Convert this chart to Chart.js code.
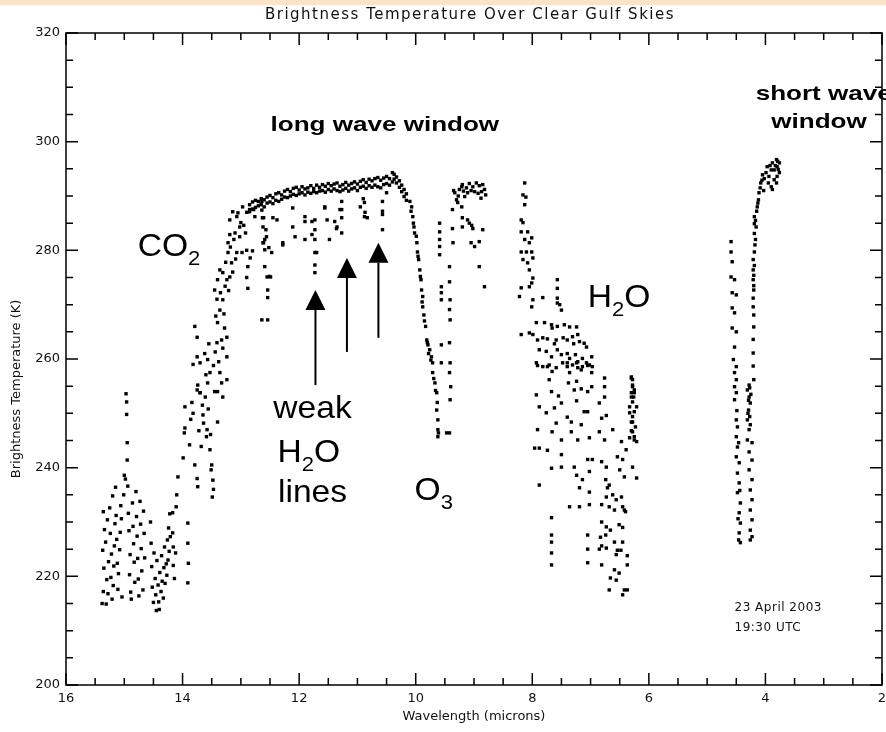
<!DOCTYPE html>
<html>
<head>
<meta charset="utf-8">
<title>Brightness Temperature Over Clear Gulf Skies</title>
<script src="https://cdn.jsdelivr.net/npm/chart.js@4.4.1/dist/chart.umd.min.js"></script>
<style>
  html, body { margin: 0; padding: 0; background: #fff; }
</style>
</head>
<body>
<canvas id="graphBT" width="886" height="732"></canvas>
<script>
// [wavelength (microns), brightness temperature (K)]
const co2Band = [
  [15.38,215.0],[15.36,217.2],[15.35,221.5],[15.37,224.8],[15.34,228.6],[15.36,231.9],[15.32,226.3],[15.30,219.4],
  [15.31,214.9],[15.28,216.8],[15.27,222.7],[15.29,230.4],[15.25,232.6],[15.24,227.9],[15.22,224.1],[15.23,219.8],
  [15.21,215.8],[15.19,218.3],[15.18,221.9],[15.17,225.6],[15.16,229.7],[15.14,231.2],[15.13,226.8],[15.12,222.4],
  [15.11,217.6],[15.10,220.5],[15.08,224.9],[15.07,228.1],[15.06,233.0],[15.05,230.6],[15.04,216.2],[15.15,236.4],
  [15.20,234.8],
  [14.97,253.6],[14.96,252.1],[14.96,249.8],[14.95,244.6],[14.95,241.4],[14.98,237.9],[14.94,236.6],[15.00,238.6],
  [15.01,235.0],
  [14.93,231.6],[14.92,228.4],[14.90,224.0],[14.91,220.3],[14.89,217.1],[14.88,215.8],[14.86,233.5],[14.85,229.2],
  [14.84,226.0],[14.83,222.6],[14.82,218.9],[14.80,235.6],[14.79,231.0],[14.78,227.4],[14.77,223.3],[14.76,219.5],
  [14.75,216.4],[14.73,233.8],[14.72,229.6],[14.71,225.1],[14.70,221.0],[14.68,217.5],[14.67,232.0],[14.66,227.9],
  [14.65,223.4],
  [14.55,230.0],[14.54,226.1],[14.53,221.8],[14.52,218.0],[14.50,215.2],[14.49,224.3],[14.47,219.6],[14.46,216.6],
  [14.45,213.7],[14.44,222.9],[14.42,218.4],[14.41,215.3],[14.40,213.9],[14.39,220.7],[14.37,217.2],[14.36,223.8],
  [14.35,219.1],[14.33,216.0],[14.32,221.6],[14.31,225.4],[14.30,218.7],[14.28,222.3],[14.27,220.2],[14.26,226.7],
  [14.25,223.0],[14.24,228.9],[14.23,224.6],[14.22,231.5],[14.21,227.3],
  [14.17,231.7],[14.17,228.0],[14.16,225.4],[14.16,222.0],[14.14,219.6],[14.12,224.3],[14.10,235.0],[14.11,232.8],
  [14.08,238.3],[13.99,241.8],[13.96,247.3],[13.97,246.4],[13.96,251.2],[13.91,229.8],[13.91,226.1],[13.90,222.4],
  [13.91,218.8],[13.84,252.0],[13.82,250.0],[13.75,254.3],[13.79,240.5],[13.75,238.0],[13.74,236.5],[13.70,253.8],
  [13.65,249.7],[13.64,248.2],[13.58,247.0],[13.59,245.7],[13.53,243.3],[13.50,240.5],[13.51,239.6],[13.48,237.7],
  [13.47,236.0],[13.49,234.6],[13.45,254.0],[13.40,248.4],[13.33,255.6],[13.88,244.2],[13.86,248.9],[13.72,246.8],
  [13.68,243.9],[13.66,251.5],[13.61,253.0],[13.56,250.8],[13.52,246.1],
  [13.79,266.0],[13.75,264.0],[13.62,261.0],[13.75,260.4],[13.70,259.3],[13.82,259.0],[13.57,259.9],[13.53,257.5],
  [13.74,255.2],[13.57,255.6],[13.70,253.8],[13.55,262.8],[13.60,257.1],[13.47,258.8],[13.44,261.3],
  [13.36,269.0],[13.31,270.9],[13.40,266.7],[13.28,265.7],[13.33,263.5],[13.41,263.0],[13.24,264.0],[13.31,262.0],
  [13.24,260.4],[13.36,257.5],[13.24,256.2],[13.40,254.0],[13.31,253.0],[13.43,267.9],[13.38,259.5],
  [13.45,272.7],[13.41,271.0],[13.40,274.6],[13.36,276.4],[13.31,275.9],[13.24,274.6],[13.19,275.1],[13.14,276.0],
  [13.07,279.6],[13.22,279.6],[13.16,277.7],[12.98,279.6],[12.90,280.0],[12.88,277.0],[12.90,275.0],[12.88,273.0],
  [13.35,272.2],[13.29,268.3],[13.27,273.4],[13.26,277.8],[13.21,272.6],[13.18,280.6],[13.12,282.0],[13.09,278.4],
  [13.19,285.6],[13.14,287.1],[13.07,286.2],[13.02,284.3],[12.97,288.0],[12.90,287.0],[12.85,287.5],[13.10,283.2],
  [13.02,282.5],[12.92,283.2],[13.19,282.9],[13.22,281.4],[13.05,286.9],[13.00,285.1],[12.95,284.6]
];

const windowBand = [
  [12.85,288.4],[12.85,287.1],[12.80,288.9],[12.80,287.6],[12.75,289.2],[12.75,287.9],[12.70,289.0],[12.70,288.2],
  [12.65,289.5],[12.65,288.4],[12.60,289.3],[12.60,288.0],[12.55,289.8],[12.55,288.7],[12.50,290.1],[12.50,288.9],
  [12.45,289.7],[12.45,288.6],[12.40,290.4],[12.40,289.2],[12.35,290.6],[12.35,289.0],[12.30,290.2],[12.30,289.4],
  [12.25,290.9],[12.25,289.8],[12.20,291.2],[12.20,289.7],[12.15,290.8],[12.15,290.0],[12.10,291.4],[12.10,290.3],
  [12.05,291.6],[12.05,290.1],[12.00,291.1],[12.00,290.4],[11.95,291.7],[11.95,290.6],[11.90,291.3],[11.90,290.2],
  [11.85,291.5],[11.85,290.7],[11.80,291.9],[11.80,290.5],[11.75,291.4],[11.75,290.8],[11.70,292.0],[11.70,290.6],
  [11.65,291.6],[11.65,290.9],[11.60,292.1],[11.60,291.0],[11.55,291.8],[11.55,290.7],[11.50,292.3],[11.50,291.2],
  [11.45,291.9],[11.45,290.9],[11.40,292.2],[11.40,291.3],[11.35,292.4],[11.35,291.0],[11.30,291.8],[11.30,290.8],
  [11.25,292.1],[11.25,291.1],[11.20,292.5],[11.20,291.4],[11.15,292.0],[11.15,290.9],[11.10,292.3],[11.10,291.3],
  [11.05,292.6],[11.05,291.5],[11.00,292.2],[11.00,291.0],[10.95,292.7],[10.95,291.6],[10.90,293.0],[10.90,291.8],
  [10.85,292.5],[10.85,291.4],[10.80,293.1],[10.80,291.9],[10.75,292.8],[10.75,291.6],[10.70,293.2],[10.70,292.0],
  [10.65,293.4],[10.65,291.7],[10.60,292.9],[10.60,291.5],[10.55,293.3],[10.55,292.1],[10.50,293.6],[10.50,292.3],
  [10.45,293.2],[10.45,292.0],[10.40,294.3],[10.40,292.6],[10.37,294.0],[10.37,293.1],[10.33,293.5],[10.33,292.4],
  [10.28,292.8],[10.28,291.6],[10.24,292.0],[10.24,290.8],[10.20,291.2],[10.20,289.9],[10.16,290.4],[10.16,289.2],
  [12.64,289.0],[12.64,287.4],[12.63,286.0],[12.62,284.3],[12.62,281.4],[12.59,277.0],[12.55,275.1],[12.51,275.2],
  [12.54,272.7],[12.54,271.3],[12.64,267.2],[12.54,267.2],[12.59,282.0],[12.59,280.1],[12.45,286.0],[12.38,285.6],
  [12.28,281.0],[12.11,284.3],[12.07,282.5],[11.90,286.2],[11.90,285.3],[11.90,282.0],[11.73,285.6],[11.73,283.8],
  [11.73,282.0],[11.73,279.6],[11.73,277.3],[11.73,275.9],[11.56,287.8],[11.52,285.6],[11.48,282.0],[11.39,285.3],
  [11.35,284.3],[11.27,289.0],[11.27,287.5],[11.27,286.0],[11.27,283.2],[10.88,288.8],[10.88,286.2],[10.83,286.0],
  [10.57,289.0],[10.57,287.2],[10.57,283.8],[10.50,290.6],[12.78,287.5],[12.76,286.2],[12.61,286.0],[12.57,283.8],
  [12.56,282.5],[12.61,281.4],[12.52,280.5],[12.47,279.6],[12.49,275.1],[12.28,281.4],[12.11,287.8],[11.78,285.3],
  [11.78,282.9],[11.70,279.6],[11.56,288.0],[11.36,284.0],[11.30,287.5],[10.90,289.5],[10.87,287.0],[10.57,286.6],
  [10.95,288.0],[12.84,278.6],[12.80,279.9]
];

const ozoneBand = [
  [10.10,289.0],[10.07,288.0],[10.05,286.2],[10.03,284.3],[10.02,283.2],[9.98,281.4],[9.97,279.7],[9.95,278.3],
  [9.93,276.4],[9.91,274.6],[9.90,272.7],[9.88,271.5],[9.88,269.6],[9.86,268.1],[9.83,266.0],[9.81,263.5],
  [9.79,262.6],[9.76,261.7],[9.73,260.4],[9.71,259.3],[9.71,257.5],[9.67,255.6],[9.64,253.8],[9.64,250.6],
  [9.62,248.8],[9.62,247.0],[9.62,245.7],[10.08,287.2],[10.04,285.0],[9.99,282.6],[9.96,278.9],[9.92,275.2],
  [9.89,270.5],[9.85,267.0],[9.80,263.0],[9.78,261.0],[9.74,259.8],[9.69,256.4],[9.66,254.2],[9.63,252.0],
  [9.61,246.4],
  [9.59,285.0],[9.59,283.4],[9.59,282.0],[9.59,280.7],[9.59,279.2],[9.56,273.3],[9.56,272.2],[9.56,270.9],
  [9.56,262.6],[9.56,259.3],
  [9.42,277.0],[9.42,274.2],[9.41,270.9],[9.42,269.1],[9.41,267.2],[9.42,263.0],[9.41,259.3],[9.42,257.5],
  [9.40,254.9],[9.41,252.5],[9.47,246.4],[9.42,246.4],
  [9.33,290.6],[9.30,289.3],[9.25,291.2],[9.21,291.7],[9.20,292.1],[9.13,291.5],[9.08,292.3],[9.02,291.7],
  [8.96,292.4],[8.91,291.9],[8.85,292.1],[8.82,291.2],[8.87,290.8],[8.99,290.8],[9.11,290.6],[9.16,289.9],
  [9.28,288.8],[9.21,288.0],[9.35,291.0],[9.27,290.0],[9.18,290.9],[9.05,291.0],[8.93,290.5],[8.88,289.6],
  [8.80,290.2],
  [9.37,287.5],[9.37,284.0],[9.36,281.4],[9.20,286.0],[9.20,284.3],[9.11,285.6],[9.08,285.0],[9.05,281.4],
  [8.99,280.7],[8.91,281.6],[8.85,283.8],[8.91,277.0],[8.82,273.3],[9.04,284.6],[9.02,284.0]
];

const waterBand = [
  [8.13,292.4],[8.16,290.2],[8.11,289.8],[8.13,288.4],[8.19,285.6],[8.16,285.1],[8.19,283.4],[8.08,283.4],
  [8.13,282.0],[8.01,282.3],[8.05,281.4],[8.19,279.7],[8.10,279.7],[8.01,279.7],[7.99,278.6],[8.16,278.3],
  [8.08,277.7],[8.05,276.4],[7.99,274.9],[8.01,274.0],[8.19,273.1],[8.05,273.3],[8.22,271.5],[7.99,270.9],
  [8.01,269.6],[7.82,271.3],[7.57,274.6],[7.57,273.0],[7.57,271.2],[7.57,270.3],[7.53,270.0],[7.50,269.0],
  [7.93,266.7],[8.19,264.5],[8.05,264.8],[7.99,264.5],[7.79,266.7],[7.67,266.3],[7.66,265.7],[7.57,266.0],
  [7.45,266.3],[7.36,265.9],[7.24,265.9],[7.91,263.5],[7.82,263.9],[7.74,263.7],[7.62,262.8],[7.59,263.5],
  [7.47,263.9],[7.40,263.5],[7.31,264.1],[7.29,262.8],[7.22,264.5],[7.19,263.2],[7.11,262.9],[7.07,262.2],
  [7.88,261.7],[7.76,261.4],[7.67,260.4],[7.57,261.7],[7.50,260.8],[7.40,261.0],[7.36,260.1],[7.26,260.8],
  [7.22,259.5],[7.14,260.1],[7.07,259.3],[6.98,260.4],[7.93,259.3],[7.82,258.6],[7.71,258.9],[7.59,258.4],
  [7.48,259.3],[7.40,258.6],[7.31,258.9],[7.22,258.4],[7.14,258.6],[7.02,258.9],[6.97,258.6],
  [7.91,258.8],[7.74,258.6],[7.66,257.7],[7.40,259.3],[7.36,257.5],[7.24,259.3],[7.16,258.0],[7.05,258.8],
  [6.98,257.5],[6.76,256.5],[6.30,256.5],[6.28,254.9],
  [7.93,253.4],[7.71,256.2],[7.67,254.0],[7.55,253.2],[7.38,255.6],[7.28,254.3],[7.24,255.9],[7.16,254.5],
  [7.05,254.0],[6.98,254.9],[6.76,254.9],[6.76,253.0],[6.30,253.0],[6.25,253.8],
  [7.88,251.2],[7.76,250.1],[7.62,251.0],[7.59,248.2],[7.50,251.9],[7.40,249.3],[7.33,248.4],[7.24,252.3],
  [7.11,250.3],[7.05,250.3],[6.85,251.9],[6.81,249.1],[6.73,249.6],[6.33,250.1],[6.28,248.4],[6.21,251.2],
  [7.91,247.0],[7.88,243.6],[7.96,243.6],[7.74,243.2],[7.66,246.6],[7.50,245.1],[7.33,246.6],[7.22,245.1],
  [7.16,247.9],[7.02,245.5],[6.85,246.6],[6.76,245.1],[6.62,247.0],[6.47,244.8],[6.39,243.3],[6.33,245.5],
  [6.30,246.8],[6.25,245.1],
  [7.50,242.4],[7.50,240.1],[7.67,239.9],[7.28,240.1],[7.24,238.6],[7.14,237.8],[7.02,239.3],[7.05,241.5],
  [6.97,241.5],[6.81,241.1],[6.73,240.1],[6.74,237.8],[6.68,236.8],[6.54,242.0],[6.45,241.5],[6.50,239.6],
  [6.42,238.3],[6.28,240.1],[6.21,238.1],[7.88,236.8],
  [7.19,236.3],[7.02,235.5],[6.71,236.3],[6.62,235.0],[6.73,234.6],[6.56,234.1],[6.47,234.6],[6.45,232.8],
  [6.42,232.2],[7.36,232.8],[7.19,232.8],[7.02,233.2],[6.81,233.2],[6.68,232.8],[6.59,232.2],[6.40,231.9],
  [7.67,230.8],
  [6.81,230.0],[6.73,229.1],[6.66,228.5],[6.51,229.5],[6.45,229.0],[6.83,227.2],[6.74,227.6],[6.59,226.3],
  [6.45,226.3],[7.67,227.6],[7.67,226.3],[7.05,227.6],[6.81,225.6],[6.73,225.2],[6.54,224.8],[6.48,224.8],
  [6.56,224.0],[7.67,224.3],[7.05,225.0],[6.37,223.8],[6.85,225.0],
  [7.67,222.1],[7.05,222.5],[6.81,222.1],[6.59,221.2],[6.51,220.6],[6.37,222.1],[6.66,219.7],[6.56,219.3],
  [6.68,217.5],[6.42,217.5],[6.37,217.5],[6.45,216.6],
  [6.30,256.7],[6.28,256.2],[6.28,255.2],[6.25,254.3],[6.30,253.8],[6.26,253.0],[6.28,252.1],[6.33,251.2],
  [6.25,250.3],[6.28,249.4],[6.30,248.4],[6.23,247.5],[6.28,246.6],[6.25,245.7],[6.21,244.8]
];

const shortwaveBand = [
  [4.59,281.6],[4.59,279.7],[4.57,277.9],[4.59,275.1],[4.53,274.6],[4.57,272.2],[4.50,271.8],[4.57,269.4],
  [4.53,268.5],[4.57,265.7],[4.50,265.0],[4.53,262.2],[4.55,259.9],[4.50,258.6],[4.53,257.5],[4.50,256.2],
  [4.53,254.9],[4.50,253.8],[4.53,252.5],[4.50,248.8],[4.48,247.5],[4.50,245.7],[4.48,243.8],[4.50,242.0],
  [4.45,240.9],[4.48,239.0],[4.45,237.2],[4.48,235.4],[4.43,233.5],[4.45,231.7],[4.43,229.8],[4.45,228.0],
  [4.43,226.2],[4.46,226.7],[4.44,235.8],[4.47,230.6],[4.49,250.5],[4.46,244.6],
  [4.19,286.2],[4.16,284.3],[4.17,282.0],[4.19,279.7],[4.21,278.3],[4.21,276.4],[4.21,274.6],[4.20,272.7],
  [4.21,269.6],[4.20,265.9],[4.21,261.1],[4.20,256.2],[4.28,255.2],[4.31,254.3],[4.28,253.0],[4.26,251.9],
  [4.29,250.6],[4.27,249.4],[4.31,248.8],[4.26,247.9],[4.28,247.0],[4.31,245.1],[4.23,244.6],[4.28,242.9],
  [4.23,241.4],[4.28,239.6],[4.23,237.8],[4.26,235.9],[4.23,234.1],[4.26,232.2],[4.23,230.4],[4.26,228.5],
  [4.23,227.3],[4.26,226.7],[4.29,252.4],[4.27,254.7],[4.30,250.0],[4.25,253.5],
  [4.19,284.9],[4.19,283.1],[4.18,281.0],[4.19,277.2],[4.20,275.4],[4.20,273.5],[4.21,271.2],[4.20,268.1],
  [4.21,263.6],[4.21,258.7],
  [4.14,288.0],[4.12,289.3],[4.11,290.6],[4.08,292.4],[4.05,293.9],[3.99,294.3],[3.97,295.4],[3.94,293.6],
  [3.90,294.8],[3.88,296.1],[3.85,294.8],[3.81,296.7],[3.80,295.4],[3.76,296.1],[3.85,293.0],[3.90,291.7],
  [3.88,291.2],[3.80,293.6],[3.76,294.3],[3.81,292.4],[3.95,292.4],[4.02,293.2],[4.15,287.2],[4.17,285.5],
  [4.03,291.0],[3.92,295.6],[3.78,294.9],[4.13,288.7],[4.09,291.5],[4.06,292.9],[3.83,295.6],[3.79,296.4]
];

// axis range and tick spacing
const xRange = [2, 16];
const yRange = [200, 320];
const xMajor = 2, xMinor = 0.5;
const yMajor = 20, yMinor = 5;

const plotTitle = 'Brightness Temperature Over Clear Gulf Skies';
const yAxisTitle = 'Brightness Temperature (K)';
const stampLines = ['23 April 2003', '19:30 UTC'];

const idlFont = '"DejaVu Sans", sans-serif';
const noteFont = '"Liberation Sans", Arial, sans-serif';

// draw text stretched horizontally around its anchor
function wideText(ctx, text, x, y, sx, align) {
  ctx.save();
  ctx.translate(x, y);
  ctx.scale(sx, 1);
  ctx.textAlign = align || 'left';
  ctx.fillText(text, 0, 0);
  ctx.restore();
}

// chemical formula, parts = [[text, isSubscript], ...]
function formula(ctx, parts, x, y, size, sx) {
  let cx = x;
  parts.forEach(([txt, sub]) => {
    const fs = sub ? Math.round(size * 0.65) : size;
    ctx.font = fs + 'px ' + noteFont;
    wideText(ctx, txt, cx, sub ? y + size * 0.3 : y, sx, 'left');
    cx += ctx.measureText(txt).width * sx;
  });
}

function arrowUp(ctx, x, yTail, yTip) {
  const head = 20, half = 10;
  ctx.beginPath();
  ctx.moveTo(x, yTail);
  ctx.lineTo(x, yTip + head);
  ctx.lineWidth = 2;
  ctx.strokeStyle = '#000';
  ctx.stroke();
  ctx.beginPath();
  ctx.moveTo(x, yTip);
  ctx.lineTo(x - half, yTip + head);
  ctx.lineTo(x + half, yTip + head);
  ctx.closePath();
  ctx.fill();
}

const framePlugin = {
  id: 'framePlugin',
  beforeDraw(chart) {
    const ctx = chart.ctx;
    ctx.save();
    ctx.fillStyle = '#fff';
    ctx.fillRect(0, 0, chart.width, chart.height);
    ctx.fillStyle = '#fde4c8';
    ctx.fillRect(0, 0, chart.width, 5);
    ctx.restore();
  },
  afterDraw(chart) {
    const ctx = chart.ctx;
    const {left, right, top, bottom} = chart.chartArea;
    const xs = chart.scales.x, ys = chart.scales.y;
    ctx.save();

    // box and inward ticks
    ctx.strokeStyle = '#000';
    ctx.lineWidth = 1.5;
    ctx.strokeRect(left, top, right - left, bottom - top);
    ctx.beginPath();
    for (let v = xRange[0]; v <= xRange[1] + 1e-6; v += xMinor) {
      const px = xs.getPixelForValue(v);
      const len = Math.abs(v / xMajor - Math.round(v / xMajor)) < 1e-6 ? 12 : 7;
      ctx.moveTo(px, bottom); ctx.lineTo(px, bottom - len);
      ctx.moveTo(px, top); ctx.lineTo(px, top + len);
    }
    for (let v = yRange[0]; v <= yRange[1] + 1e-6; v += yMinor) {
      const py = ys.getPixelForValue(v);
      const len = v % yMajor === 0 ? 12 : 7;
      ctx.moveTo(left, py); ctx.lineTo(left + len, py);
      ctx.moveTo(right, py); ctx.lineTo(right - len, py);
    }
    ctx.stroke();

    // title
    ctx.fillStyle = '#111';
    ctx.font = '15px ' + idlFont;
    ctx.textAlign = 'center';
    ctx.textBaseline = 'middle';
    if ('letterSpacing' in ctx) ctx.letterSpacing = '1.5px';
    ctx.fillText(plotTitle, (left + right) / 2 - 4, 15);

    // y axis title, sits a little below the middle of the axis
    ctx.save();
    ctx.translate(17, ys.getPixelForValue(254.5));
    ctx.rotate(-Math.PI / 2);
    ctx.font = '13px ' + idlFont;
    if ('letterSpacing' in ctx) ctx.letterSpacing = '0px';
    ctx.fillText(yAxisTitle, 0, 0);
    ctx.restore();

    // date stamp
    if ('letterSpacing' in ctx) ctx.letterSpacing = '0.5px';
    ctx.font = '12px ' + idlFont;
    ctx.textAlign = 'left';
    ctx.fillText(stampLines[0], xs.getPixelForValue(4.53), ys.getPixelForValue(214.2));
    ctx.fillText(stampLines[1], xs.getPixelForValue(4.53), ys.getPixelForValue(210.5));
    if ('letterSpacing' in ctx) ctx.letterSpacing = '0px';

    // band labels
    ctx.fillStyle = '#000';
    ctx.textBaseline = 'alphabetic';
    ctx.font = 'bold 21px ' + noteFont;
    wideText(ctx, 'long wave window', xs.getPixelForValue(10.53), ys.getPixelForValue(302.0), 1.24, 'center');
    wideText(ctx, 'short wave', xs.getPixelForValue(3.0), ys.getPixelForValue(307.7), 1.24, 'center');
    wideText(ctx, 'window', xs.getPixelForValue(3.08), ys.getPixelForValue(302.6), 1.24, 'center');

    const fs = 32, sx = 1.05;
    formula(ctx, [['CO', false], ['2', true]], xs.getPixelForValue(14.77), ys.getPixelForValue(279.0), fs, sx);
    formula(ctx, [['H', false], ['2', true], ['O', false]], xs.getPixelForValue(7.05), ys.getPixelForValue(269.6), fs, sx);
    formula(ctx, [['O', false], ['3', true]], xs.getPixelForValue(10.02), ys.getPixelForValue(234.1), fs, sx);
    ctx.font = fs + 'px ' + noteFont;
    wideText(ctx, 'weak', xs.getPixelForValue(11.77), ys.getPixelForValue(249.2), sx, 'center');
    formula(ctx, [['H', false], ['2', true], ['O', false]], xs.getPixelForValue(12.37), ys.getPixelForValue(241.1), fs, sx);
    ctx.font = fs + 'px ' + noteFont;
    wideText(ctx, 'lines', xs.getPixelForValue(11.77), ys.getPixelForValue(233.7), sx, 'center');

    // arrows to the weak water vapour lines
    ctx.fillStyle = '#000';
    arrowUp(ctx, xs.getPixelForValue(11.72), ys.getPixelForValue(255.2), ys.getPixelForValue(272.7));
    arrowUp(ctx, xs.getPixelForValue(11.18), ys.getPixelForValue(261.3), ys.getPixelForValue(278.6));
    arrowUp(ctx, xs.getPixelForValue(10.64), ys.getPixelForValue(263.9), ys.getPixelForValue(281.4));

    ctx.restore();
  }
};

const toXY = band => band.map(p => ({ x: p[0], y: p[1] }));
const dotStyle = {
  showLine: false,
  backgroundColor: '#000',
  borderColor: '#000',
  pointBackgroundColor: '#000',
  pointBorderWidth: 0,
  pointStyle: 'rect',
  pointRadius: 2.4
};

document.addEventListener('DOMContentLoaded', function () {
  const ctx = document.getElementById('graphBT').getContext('2d');

  new Chart(ctx, {
    type: 'scatter',
    data: {
      datasets: [
        Object.assign({ label: 'CO2', data: toXY(co2Band) }, dotStyle),
        Object.assign({ label: 'window', data: toXY(windowBand) }, dotStyle),
        Object.assign({ label: 'O3', data: toXY(ozoneBand) }, dotStyle),
        Object.assign({ label: 'H2O', data: toXY(waterBand) }, dotStyle),
        Object.assign({ label: 'short wave', data: toXY(shortwaveBand) }, dotStyle)
      ]
    },
    options: {
      responsive: false,
      animation: false,
      layout: { padding: { top: 33, right: 0, bottom: 0, left: 0 } },
      plugins: {
        legend: { display: false },
        tooltip: { enabled: false }
      },
      scales: {
        x: {
          type: 'linear',
          reverse: true,
          min: xRange[0],
          max: xRange[1],
          border: { display: false },
          grid: { display: false, drawTicks: false },
          ticks: { stepSize: xMajor, padding: 6, color: '#111', maxRotation: 0, font: { family: idlFont, size: 13 } },
          title: { display: true, text: 'Wavelength (microns)', color: '#111', padding: { top: 0, bottom: 8 }, font: { family: idlFont, size: 13 } },
          afterFit: s => { s.height = 47; s.paddingRight = 4; }
        },
        y: {
          min: yRange[0],
          max: yRange[1],
          border: { display: false },
          grid: { display: false, drawTicks: false },
          ticks: { stepSize: yMajor, padding: 6, color: '#111', font: { family: idlFont, size: 13 } },
          afterFit: s => { s.width = 66; }
        }
      }
    },
    plugins: [framePlugin]
  });
});
</script>
</body>
</html>
